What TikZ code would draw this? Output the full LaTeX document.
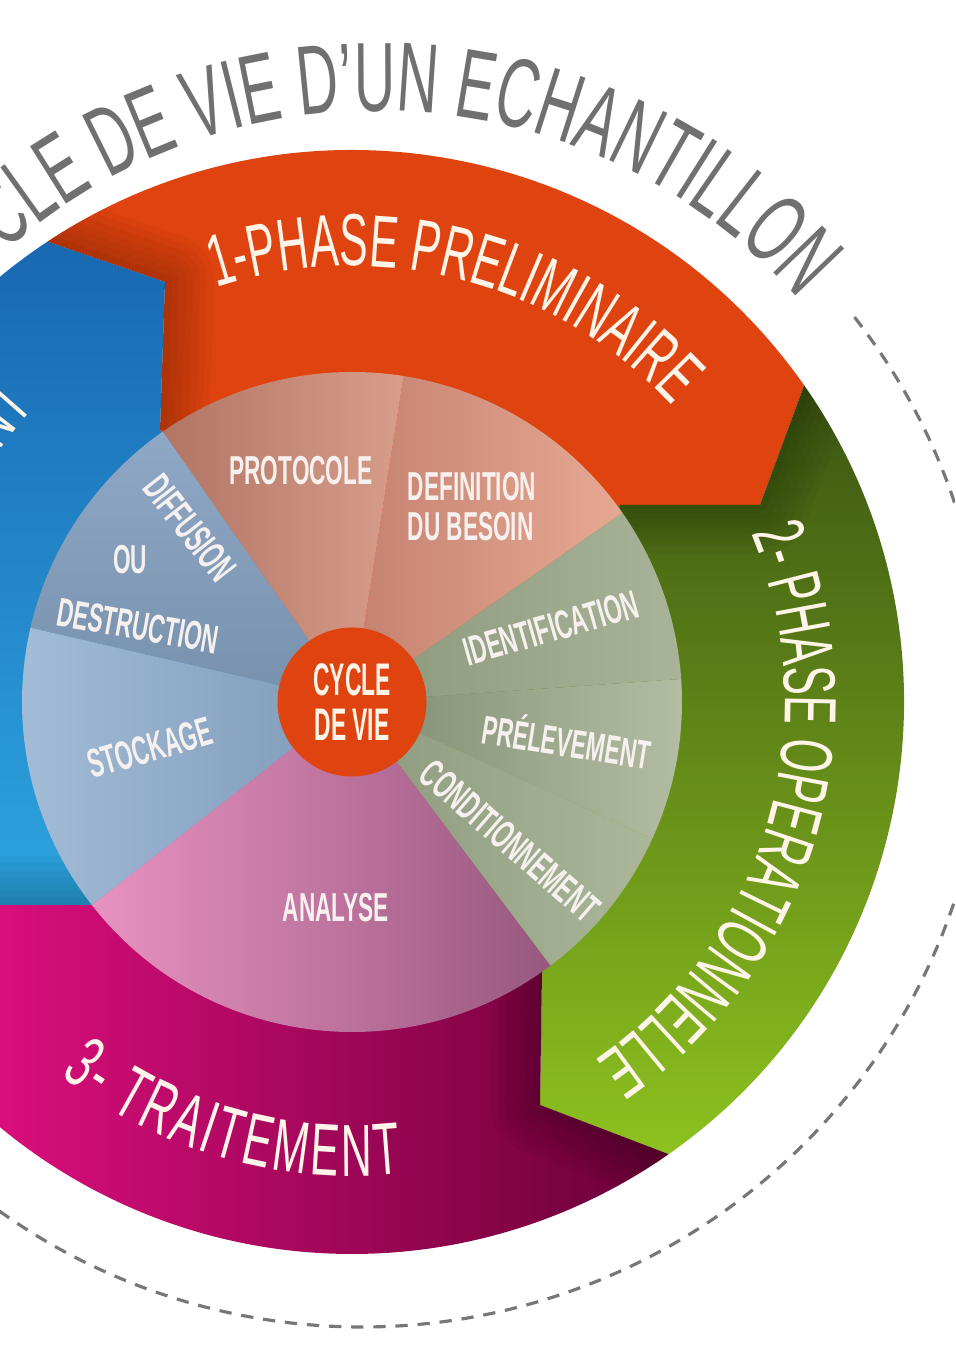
\documentclass[tikz,border=0pt]{standalone}
\usepackage{fontspec}
\setmainfont{Liberation Sans}
\newfontfamily\titlefont{Liberation Sans}[FakeStretch=0.58]
\newfontfamily\labelfont{Liberation Sans}[FakeStretch=0.56]
\newfontfamily\centerfont{Liberation Sans}[FakeStretch=0.5]
\usetikzlibrary{decorations.text}

\definecolor{phaseorange}{HTML}{DF430F}
\definecolor{greentop}{HTML}{3B5512}
\definecolor{greenbot}{HTML}{8DC21F}
\definecolor{magleft}{HTML}{EC1087}
\definecolor{magmid}{HTML}{B80663}
\definecolor{magright}{HTML}{680036}
\definecolor{bluetop}{HTML}{1968B2}
\definecolor{bluebot}{HTML}{30AEE6}
\definecolor{titlegray}{HTML}{707070}
\definecolor{dashgray}{HTML}{777777}
\definecolor{cream}{HTML}{FFF4E8}
\definecolor{labelwhite}{HTML}{F6F1EF}
%pie colours
\definecolor{prelA}{HTML}{7F8C70}
\definecolor{prelB}{HTML}{B3BDA3}
\definecolor{identA}{HTML}{8C987C}
\definecolor{identB}{HTML}{A8B398}
\definecolor{condA}{HTML}{8D9A7E}
\definecolor{condB}{HTML}{ABB799}
\definecolor{defA}{HTML}{C58170}
\definecolor{defB}{HTML}{E6A993}
\definecolor{protoA}{HTML}{B27565}
\definecolor{protoB}{HTML}{D89D8B}
\definecolor{diffA}{HTML}{8FA8C5}
\definecolor{diffB}{HTML}{7790AC}
\definecolor{stockA}{HTML}{A4BDD8}
\definecolor{stockB}{HTML}{7E9AB8}
\definecolor{anaA}{HTML}{E892C2}
\definecolor{anaB}{HTML}{98587F}

\newcommand{\edgeshadow}[4]{\begin{scope}\clip #1;
  \foreach \w in {28,24,20,16,12,8,4}
    \draw[line width=\w pt,black,opacity=0.03,line join=round] (#2) -- (#3) -- (#4);
  \end{scope}}

\begin{document}
\begin{tikzpicture}[
  lbl/.style={text=labelwhite, inner sep=0pt, align=center, font=\labelfont\bfseries\fontsize{11.5}{11.4}\selectfont},
  phasetext/.style={decorate, decoration={text along path, text color=cream, text align=center,
    text={|\titlefont\fontsize{21}{24}\selectfont|#1}}}]

\useasboundingbox (-3.52,-6.47) rectangle (6.03,7.02);
\clip (-3.52,-6.47) rectangle (6.03,7.02);

%Marking coordinates of the phase boundaries
\coordinate (O) at (0,0);
\coordinate (Pog) at (35:5.52);
\coordinate (Cog) at (4.08,1.97);
\coordinate (Qog) at (2.68,1.97);
\coordinate (Pgm) at (-55:5.52);
\coordinate (Cgm) at (1.88,-4.03);
\coordinate (Qgm) at (1.90,-2.70);
\coordinate (Pmb) at (213.5:5.52);
\coordinate (Cmb) at (-4.15,-2.03);
\coordinate (Qmb) at (-2.60,-2.03);
\coordinate (Pbo) at (123.5:5.52);
\coordinate (Cbo) at (-1.87,4.20);
\coordinate (Qbo) at (-1.92,2.72);

\def\orangeshape{(O) -- (Qog) -- (Cog) -- (Pog) arc[start angle=35,end angle=123.5,radius=5.52] -- (Cbo) -- (Qbo) -- cycle}
\def\greenshape{(O) -- (Qgm) -- (Cgm) -- (Pgm) arc[start angle=-55,end angle=35,radius=5.52] -- (Cog) -- (Qog) -- cycle}
\def\magentashape{(O) -- (Qmb) -- (Cmb) -- (Pmb) arc[start angle=213.5,end angle=305,radius=5.52] -- (Cgm) -- (Qgm) -- cycle}
\def\blueshape{(O) -- (Qbo) -- (Cbo) -- (Pbo) arc[start angle=123.5,end angle=213.5,radius=5.52] -- (Cmb) -- (Qmb) -- cycle}

%Drawing the four phases
\fill[phaseorange] \orangeshape;
\shade[top color=greentop, bottom color=greenbot] \greenshape;
\shade[left color=magleft, middle color=magmid, right color=magright] \magentashape;
\shade[top color=bluetop, bottom color=bluebot] \blueshape;
\edgeshadow{\orangeshape}{Pbo}{Cbo}{Qbo}
\edgeshadow{\greenshape}{Pog}{Cog}{Qog}
\edgeshadow{\magentashape}{Pgm}{Cgm}{Qgm}
\edgeshadow{\blueshape}{Pmb}{Cmb}{Qmb}

%Drawing the pie of steps
\shade[left color=prelA, right color=prelB] (O) -- (-24.5:3.3) arc[start angle=-24.5,end angle=4,radius=3.3] -- cycle;
\shade[left color=identA, right color=identB] (O) -- (4:3.3) arc[start angle=4,end angle=35,radius=3.3] -- cycle;
\shade[left color=defA, right color=defB] (O) -- (35:3.3) arc[start angle=35,end angle=81,radius=3.3] -- cycle;
\shade[left color=protoA, right color=protoB] (O) -- (81:3.3) arc[start angle=81,end angle=125,radius=3.3] -- cycle;
\shade[top color=diffA, bottom color=diffB] (O) -- (125:3.3) arc[start angle=125,end angle=167,radius=3.3] -- cycle;
\shade[left color=stockA, right color=stockB] (O) -- (167:3.3) arc[start angle=167,end angle=218,radius=3.3] -- cycle;
\shade[left color=anaA, right color=anaB] (O) -- (218:3.3) arc[start angle=218,end angle=307,radius=3.3] -- cycle;
\shade[left color=condA, right color=condB] (O) -- (307:3.3) arc[start angle=307,end angle=335.5,radius=3.3] -- cycle;

%Centre
\node[circle, fill=phaseorange, minimum size=1.49cm, inner sep=0pt, text=cream, align=center,
  font=\centerfont\bfseries\fontsize{13}{12.8}\selectfont] (cycle) at (O) {CYCLE\\DE VIE};

%Step labels
\node[lbl] (protocole) at (-0.51,2.31) {PROTOCOLE};
\node[lbl, align=left] (definition) at (1.20,1.95) {DEFINITION\\DU BESOIN};
\node[lbl, rotate=-52] (diffusion) at (-1.62,1.74) {DIFFUSION};
\node[lbl] (ou) at (-2.22,1.42) {OU};
\node[lbl, rotate=-10] (destruction) at (-2.14,0.76) {DESTRUCTION};
\node[lbl, rotate=16] (stockage) at (-2.02,-0.46) {STOCKAGE};
\node[lbl] (analyse) at (-0.16,-2.06) {ANALYSE};
\node[lbl, rotate=16] (identification) at (1.99,0.74) {IDENTIFICATION};
\node[lbl, rotate=-9] (prelevement) at (2.15,-0.37) {PRÉLEVEMENT};
\node[lbl, rotate=-41] (conditionnement) at (1.58,-1.39) {CONDITIONNEMENT};

%Phase names
\path[phasetext={1-PHASE PRELIMINAIRE}] (120:4.36) arc[start angle=120,end angle=31,radius=4.36];
\path[phasetext={2- PHASE OPERATIONNELLE}] (30:4.33) arc[start angle=30,end angle=-63,radius=4.33];
\path[phasetext={3- TRAITEMENT}, decoration={text align=fit to path}] (232:4.74) arc[start angle=232,end angle=276,radius=4.74];
\path[phasetext={NT}, decoration={text align=right}] (200:4.33) arc[start angle=200,end angle=137,radius=4.33];

%Title and dashed ring
\path[shift={(0.26,0.27)}, decorate, decoration={text along path, text color=titlegray, text align=center,
  text={|\titlefont\fontsize{28}{30}\selectfont|CLE DE VIE D’UN ECHANTILLON}}]
  (131.6:5.64) arc[start angle=131.6,end angle=41.6,radius=5.64];
\draw[shift={(0.1,0)}, dashgray, line width=0.9pt, dash pattern=on 3.5pt off 2.8pt]
  (38:6.25) arc[start angle=38,end angle=-160,radius=6.25];
\end{tikzpicture}
\end{document}
